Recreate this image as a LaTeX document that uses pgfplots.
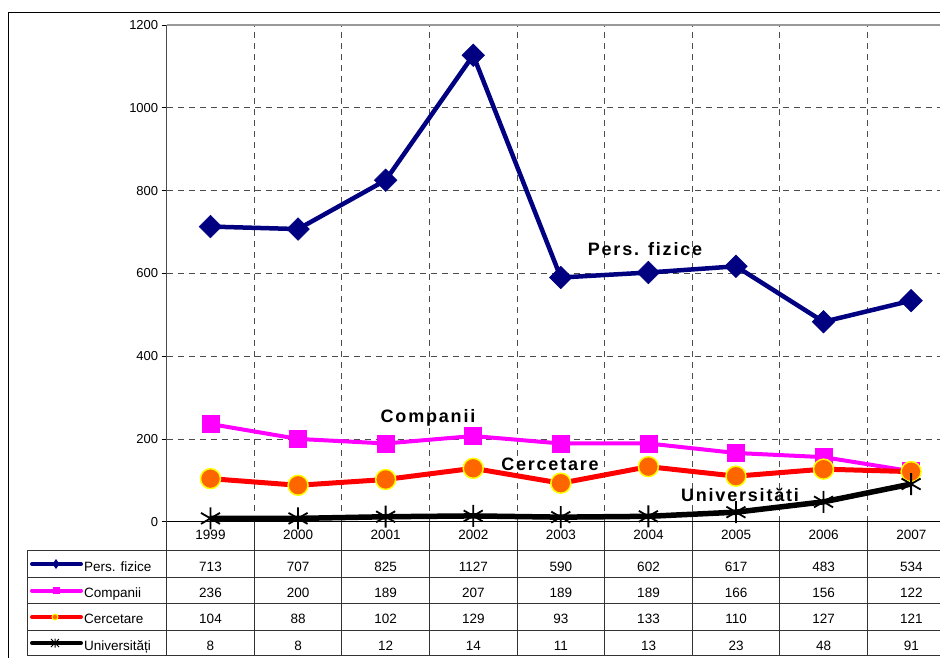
\documentclass[border=0pt]{standalone}
\usepackage{fontspec}
\setmainfont{Liberation Sans}
\newfontfamily\lblfont[LetterSpace=10]{Liberation Sans}
\usepackage{pgfplots}
\usepackage{pgfplotstable}
\pgfplotsset{compat=1.18}
\definecolor{navy}{RGB}{0,0,128}
\definecolor{mag}{RGB}{255,0,255}
\definecolor{orng}{RGB}{255,102,0}
\definecolor{ylw}{RGB}{255,255,0}
\newcommand\tbl{\fontsize{13.5bp}{15bp}\selectfont}
\newcommand\lbl{\lblfont\bfseries\fontsize{18bp}{21bp}\selectfont}

\pgfplotstableread{
x pers comp cerc univ
0 713 236 104 8
1 707 200 88 8
2 825 189 102 12
3 1127 207 129 14
4 590 189 93 11
5 602 189 133 13
6 617 166 110 23
7 483 156 127 48
8 534 122 121 91
}\data

\begin{document}
\begin{tikzpicture}
\begin{axis}[
 at={(166.7bp,-521.7bp)}, anchor=south west,
 scale only axis, width=773.3bp, height=496.7bp,
 xmin=-0.5, xmax=8.33, ymin=0, ymax=1200,
 axis line style={draw=none},
 xtick={0.5,1.5,...,7.5}, xticklabels={}, xmajorgrids,
 x tick style={draw=none},
 ytick={0,200,...,1200}, ymajorgrids,
 y tick style={black, line width=0.8bp},
 tick align=outside, major tick length=5bp,
 ytick pos=left,
 grid style={black!70, line width=0.8bp, dash pattern=on 6bp off 5bp},
 yticklabel style={font=\fontsize{13bp}{15bp}\selectfont},
 /pgf/number format/assume math mode=true,
 /pgf/number format/1000 sep={},
 clip=false,
]
\addplot[navy, line width=4.5bp, mark=square*, mark size=8bp, mark options={rotate=45, solid, line width=0.5bp}] table[x=x,y=pers]{\data};
\addplot[mag, line width=4bp, mark=square*, mark size=8.5bp, mark options={solid, line width=0.5bp}] table[x=x,y=comp]{\data};
\addplot[red, line width=5bp, mark=*, mark size=10bp, mark options={solid, fill=orng, draw=ylw, line width=1.5bp}] table[x=x,y=cerc]{\data};
\addplot[black, line width=5.5bp, mark=asterisk, mark size=11bp, mark options={solid, line width=1.8bp}] table[x=x,y=univ]{\data};
\end{axis}

% axis lines
\draw[black!70, line width=1.5bp] (166.7bp,-25bp) -- (166.7bp,-521.7bp);
\draw[black!40, line width=2bp] (166.7bp,-25bp) -- (945bp,-25bp);
\draw[black, line width=1.5bp] (166.7bp,-521.7bp) -- (945bp,-521.7bp);
% outer frame
\draw[black, line width=1bp] (8bp,-665bp) -- (8bp,-12bp) -- (945bp,-12bp);

% table
\foreach \k in {0,...,8} {
  \draw[black!80, line width=1bp] ({166.7bp+87.6bp*\k},-521.7bp) -- ({166.7bp+87.6bp*\k},-656bp);
}
\draw[black!80, line width=1bp] (27bp,-550.5bp) -- (27bp,-656bp);
\foreach \y in {550.5,577,603.5,630,655.5} {
  \draw[black!80, line width=1bp] (27bp,-\y bp) -- (945bp,-\y bp);
}
\foreach \yr [count=\i from 0] in {1999,2000,2001,2002,2003,2004,2005,2006,2007} {
  \node[anchor=base, font=\tbl, inner sep=0pt] at ({210.5bp+87.6bp*\i},-539bp) {\yr};
}
\foreach \v [count=\i from 0] in {713,707,825,1127,590,602,617,483,534} {
  \node[anchor=base, font=\tbl, inner sep=0pt] at ({210.5bp+87.6bp*\i},-571bp) {\v};
}
\foreach \v [count=\i from 0] in {236,200,189,207,189,189,166,156,122} {
  \node[anchor=base, font=\tbl, inner sep=0pt] at ({210.5bp+87.6bp*\i},-597bp) {\v};
}
\foreach \v [count=\i from 0] in {104,88,102,129,93,133,110,127,121} {
  \node[anchor=base, font=\tbl, inner sep=0pt] at ({210.5bp+87.6bp*\i},-623bp) {\v};
}
\foreach \v [count=\i from 0] in {8,8,12,14,11,13,23,48,91} {
  \node[anchor=base, font=\tbl, inner sep=0pt] at ({210.5bp+87.6bp*\i},-650bp) {\v};
}

% legend keys
\draw[navy, line width=4bp, line cap=round] (32bp,-564bp) -- (81bp,-564bp);
\fill[navy] (56bp,-559bp) -- (59.5bp,-564bp) -- (56bp,-569bp) -- (52.5bp,-564bp) -- cycle;
\draw[mag, line width=4bp, line cap=round] (32bp,-590.5bp) -- (81bp,-590.5bp);
\fill[mag] (52.5bp,-587bp) rectangle (59.5bp,-594bp);
\draw[red, line width=4bp, line cap=round] (32bp,-617bp) -- (81bp,-617bp);
\filldraw[fill=orng, draw=ylw, line width=1bp] (55bp,-617bp) circle (3bp);
\draw[black, line width=4bp, line cap=round] (32bp,-643bp) -- (81bp,-643bp);
\draw[black, line width=1bp] (55bp,-638.5bp) -- (55bp,-647.5bp) (51bp,-639bp) -- (59bp,-647bp) (51bp,-647bp) -- (59bp,-639bp);
\node[anchor=base west, font=\tbl, inner sep=0pt] at (84bp,-571bp) {Pers. fizice};
\node[anchor=base west, font=\tbl, inner sep=0pt] at (84bp,-597bp) {Companii};
\node[anchor=base west, font=\tbl, inner sep=0pt] at (84bp,-623bp) {Cercetare};
\node[anchor=base west, font=\tbl, inner sep=0pt] at (84bp,-650bp) {Universități};

% series labels
\node[anchor=base, font=\lbl, inner sep=0pt] at (645bp,-255bp) {Pers. fizice};
\node[anchor=base, font=\lbl, inner sep=0pt] at (428bp,-422bp) {Companii};
\node[anchor=base, font=\lbl, inner sep=0pt] at (550bp,-470bp) {Cercetare};
\node[anchor=base, font=\lbl, inner sep=0pt] at (740bp,-501.5bp) {Universităti};

\pgfresetboundingbox
\useasboundingbox (0bp,-658bp) rectangle (940bp,0bp);
\end{tikzpicture}
\end{document}
